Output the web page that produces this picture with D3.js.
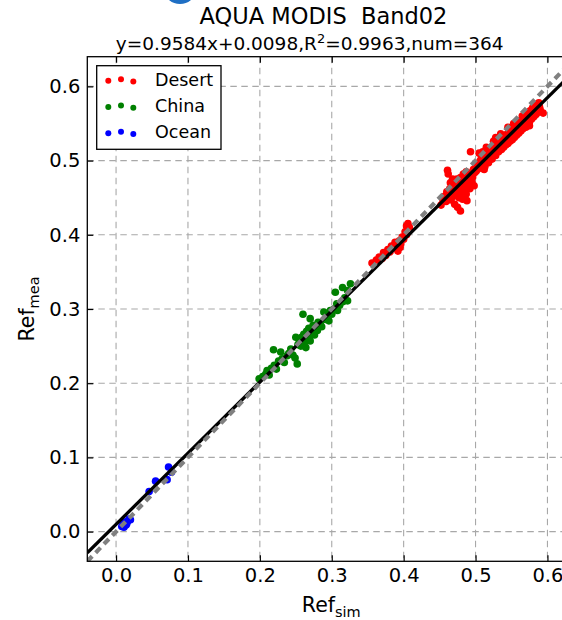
<!DOCTYPE html>
<html>
<head>
<meta charset="utf-8">
<script src="https://cdn.jsdelivr.net/npm/d3@7/dist/d3.min.js"></script>
<style>
  html, body { margin: 0; padding: 0; background: #ffffff; }
  svg { display: block; font-family: "DejaVu Sans", sans-serif; }
</style>
</head>
<body>
<svg id="chart" width="562" height="620"></svg>
<script>
// ---------------- data ----------------
const titleText = "AQUA MODIS  Band02";
const fitSlope = 0.9584;
const fitIntercept = 0.0098;
const r2Text = "0.9963";
const numText = "364";
const xLabel = "Ref", xLabelSub = "sim";
const yLabel = "Ref", yLabelSub = "mea";
const axisDomain = [-0.04, 0.64];
const tickValues = [0.0, 0.1, 0.2, 0.3, 0.4, 0.5, 0.6];
const tickLabels = ["0.0", "0.1", "0.2", "0.3", "0.4", "0.5", "0.6"];
const seriesNames = ["Desert", "China", "Ocean"];
const seriesColors = ["#ff0000", "#008000", "#0000ff"];

const desert = [
  [0.356,0.362],[0.362,0.366],[0.366,0.370],[0.370,0.368],[0.372,0.376],[0.375,0.372],[0.378,0.380],
  [0.381,0.377],[0.383,0.385],[0.386,0.382],[0.388,0.390],[0.390,0.386],[0.392,0.378],[0.394,0.392],
  [0.396,0.388],[0.398,0.397],[0.400,0.394],[0.402,0.404],[0.404,0.400],[0.406,0.415],[0.408,0.410],
  [0.404,0.412],[0.395,0.383],
  [0.452,0.440],[0.455,0.447],[0.457,0.452],[0.459,0.445],[0.460,0.458],[0.461,0.487],[0.462,0.482],
  [0.463,0.451],[0.464,0.462],[0.465,0.455],[0.466,0.447],[0.467,0.468],[0.468,0.460],[0.469,0.452],
  [0.470,0.472],[0.471,0.441],[0.472,0.463],[0.473,0.456],[0.474,0.475],[0.475,0.437],[0.476,0.468],
  [0.477,0.450],[0.478,0.461],[0.479,0.477],[0.480,0.457],[0.481,0.470],[0.482,0.448],[0.483,0.465],
  [0.484,0.478],[0.485,0.460],[0.486,0.472],[0.487,0.455],[0.488,0.446],[0.489,0.480],[0.490,0.468],
  [0.491,0.475],[0.492,0.462],[0.493,0.512],[0.494,0.483],[0.495,0.471],[0.496,0.478],[0.497,0.488],
  [0.498,0.466],[0.499,0.484],[0.500,0.492],[0.465,0.470],[0.470,0.462],[0.475,0.458],[0.480,0.466],
  [0.485,0.470],[0.490,0.483],[0.455,0.445],[0.460,0.450],[0.468,0.475],[0.478,0.472],[0.483,0.482],
  [0.487,0.485],[0.479,0.432],
  [0.501,0.486],[0.503,0.495],[0.504,0.489],[0.506,0.499],[0.507,0.492],[0.508,0.503],[0.510,0.495],
  [0.511,0.505],[0.512,0.498],[0.513,0.492],[0.514,0.507],[0.515,0.500],[0.516,0.510],[0.517,0.503],
  [0.518,0.497],[0.519,0.512],[0.520,0.506],[0.521,0.515],[0.522,0.509],[0.523,0.502],[0.524,0.517],
  [0.525,0.511],[0.526,0.520],[0.527,0.514],[0.528,0.507],[0.529,0.522],[0.530,0.516],[0.531,0.525],
  [0.532,0.512],[0.533,0.519],[0.534,0.528],[0.535,0.521],[0.536,0.515],[0.537,0.530],[0.538,0.524],
  [0.539,0.518],[0.540,0.533],[0.541,0.527],[0.542,0.521],[0.543,0.535],[0.544,0.529],[0.545,0.523],
  [0.546,0.538],[0.547,0.531],[0.548,0.526],[0.549,0.540],[0.550,0.534],[0.505,0.510],[0.515,0.518],
  [0.525,0.526],[0.535,0.536],[0.545,0.545],[0.512,0.488],[0.528,0.531],[0.510,0.512],
  [0.551,0.528],[0.552,0.543],[0.553,0.537],[0.554,0.531],[0.555,0.546],[0.556,0.540],[0.557,0.534],
  [0.558,0.549],[0.559,0.543],[0.560,0.537],[0.561,0.552],[0.562,0.546],[0.563,0.540],[0.564,0.555],
  [0.565,0.549],[0.566,0.543],[0.567,0.558],[0.568,0.552],[0.569,0.546],[0.570,0.561],[0.571,0.555],
  [0.572,0.549],[0.573,0.564],[0.574,0.558],[0.575,0.552],[0.576,0.567],[0.577,0.561],[0.578,0.556],
  [0.579,0.570],[0.580,0.564],[0.581,0.559],[0.582,0.573],[0.583,0.567],[0.584,0.562],[0.585,0.576],
  [0.586,0.570],[0.587,0.565],[0.588,0.578],[0.589,0.572],[0.590,0.568],[0.560,0.553],[0.570,0.545],
  [0.575,0.547],[0.580,0.572],[0.585,0.568],[0.553,0.550],[0.565,0.560],[0.594,0.564]
];

const china = [
  [0.199,0.206],[0.204,0.209],[0.208,0.212],[0.210,0.217],[0.213,0.211],[0.216,0.220],[0.219,0.245],
  [0.220,0.224],[0.223,0.219],[0.226,0.230],[0.229,0.242],[0.231,0.233],[0.234,0.228],[0.238,0.237],
  [0.240,0.240],[0.243,0.246],[0.246,0.238],[0.249,0.234],[0.250,0.262],[0.252,0.226],[0.253,0.252],
  [0.255,0.258],[0.257,0.250],[0.258,0.262],[0.260,0.293],[0.261,0.266],[0.262,0.255],[0.264,0.248],
  [0.265,0.270],[0.267,0.262],[0.268,0.274],[0.270,0.287],[0.270,0.257],[0.272,0.268],[0.274,0.278],
  [0.276,0.265],[0.278,0.272],[0.280,0.271],[0.281,0.282],[0.284,0.280],[0.286,0.276],[0.289,0.296],
  [0.291,0.286],[0.293,0.290],[0.296,0.284],[0.298,0.298],[0.300,0.293],[0.303,0.300],[0.305,0.3225],
  [0.307,0.307],[0.308,0.298],[0.311,0.305],[0.315,0.329],[0.316,0.310],[0.318,0.315],[0.322,0.311],
  [0.322,0.325],[0.326,0.334]
];

const ocean = [
  [0.008,0.007],[0.010,0.010],[0.012,0.013],[0.014,0.009],[0.016,0.014],[0.018,0.017],[0.020,0.016],
  [0.015,0.011],[0.011,0.006],[0.046,0.054],[0.055,0.068],[0.071,0.070],[0.073,0.087],[0.077,0.080]
];

const seriesData = [desert, china, ocean];

// ---------------- layout ----------------
const svg = d3.select("#chart");
const m = { left: 87.3, top: 56.7, w: 488.9, h: 504.6 };

const x = d3.scaleLinear().domain(axisDomain).range([m.left, m.left + m.w]);
const y = d3.scaleLinear().domain(axisDomain).range([m.top + m.h, m.top]);

svg.append("defs").append("clipPath").attr("id", "plotclip")
  .append("rect").attr("x", m.left).attr("y", m.top).attr("width", m.w).attr("height", m.h);

// decorative blue fragment at top
svg.append("ellipse").attr("cx", 180).attr("cy", -9).attr("rx", 15).attr("ry", 13)
  .attr("fill", "#1f6fc4");

// grid
const grid = svg.append("g").attr("clip-path", "url(#plotclip)");
grid.selectAll(".vg").data(tickValues).enter().append("line")
  .attr("x1", d => x(d)).attr("x2", d => x(d))
  .attr("y1", m.top).attr("y2", m.top + m.h)
  .attr("stroke", "#a8a8a8").attr("stroke-width", 1.1).attr("stroke-dasharray", "6.5,4.5");
grid.selectAll(".hg").data(tickValues).enter().append("line")
  .attr("y1", d => y(d)).attr("y2", d => y(d))
  .attr("x1", m.left).attr("x2", m.left + m.w)
  .attr("stroke", "#a8a8a8").attr("stroke-width", 1.1).attr("stroke-dasharray", "6.5,4.5");

// points
const plot = svg.append("g").attr("clip-path", "url(#plotclip)");
seriesData.forEach((arr, i) => {
  plot.append("g").selectAll("circle").data(arr).enter().append("circle")
    .attr("cx", d => x(d[0])).attr("cy", d => y(d[1])).attr("r", 3.8)
    .attr("fill", seriesColors[i]);
});

// fit line
plot.append("line")
  .attr("x1", x(axisDomain[0])).attr("y1", y(fitSlope * axisDomain[0] + fitIntercept))
  .attr("x2", x(axisDomain[1])).attr("y2", y(fitSlope * axisDomain[1] + fitIntercept))
  .attr("stroke", "#000").attr("stroke-width", 3.3);

// 1:1 line
plot.append("line")
  .attr("x1", x(axisDomain[0])).attr("y1", y(axisDomain[0]))
  .attr("x2", x(axisDomain[1])).attr("y2", y(axisDomain[1]))
  .attr("stroke", "#808080").attr("stroke-width", 4.2).attr("stroke-dasharray", "7,5");

// axes
const fmt = (d) => tickLabels[tickValues.indexOf(d)];
const xAxis = d3.axisBottom(x).tickValues(tickValues).tickFormat(fmt).tickSizeInner(-6).tickSizeOuter(0).tickPadding(7);
const yAxis = d3.axisLeft(y).tickValues(tickValues).tickFormat(fmt).tickSizeInner(-6).tickSizeOuter(0).tickPadding(7);
const xTop = d3.axisTop(x).tickValues(tickValues).tickFormat("").tickSizeInner(-6).tickSizeOuter(0);
const yRight = d3.axisRight(y).tickValues(tickValues).tickFormat("").tickSizeInner(-6).tickSizeOuter(0);

function styleAxis(g) {
  g.select(".domain").remove();
  g.selectAll(".tick line").attr("stroke", "#000").attr("stroke-width", 1.2);
  g.selectAll(".tick text").attr("fill", "#000").style("font-size", "19.5px")
    .style("font-family", "'DejaVu Sans', sans-serif");
}
svg.append("g").attr("transform", `translate(0,${m.top + m.h})`).call(xAxis).call(styleAxis);
svg.append("g").attr("transform", `translate(${m.left},0)`).call(yAxis).call(styleAxis);
svg.append("g").attr("transform", `translate(0,${m.top})`).call(xTop).call(styleAxis);
svg.append("g").attr("transform", `translate(${m.left + m.w},0)`).call(yRight).call(styleAxis);

// frame
svg.append("rect").attr("x", m.left).attr("y", m.top).attr("width", m.w).attr("height", m.h)
  .attr("fill", "none").attr("stroke", "#000").attr("stroke-width", 1.3);

// title
svg.append("text").attr("x", 323.5).attr("y", 24).attr("text-anchor", "middle")
  .style("font-size", "22.5px").style("white-space", "pre").attr("fill", "#000")
  .text(titleText);

const sub = svg.append("text").attr("x", 309.7).attr("y", 50).attr("text-anchor", "middle")
  .style("font-size", "18.5px").attr("fill", "#000");
sub.append("tspan").text(`y=${fitSlope}x+${fitIntercept},R`);
sub.append("tspan").attr("dy", -7).style("font-size", "13px").text("2");
sub.append("tspan").attr("dy", 7).text(`=${r2Text},num=${numText}`);

// x label
const xl = svg.append("text").attr("x", m.left + m.w / 2 - 0.5).attr("y", 612).attr("text-anchor", "middle")
  .style("font-size", "20.5px").attr("fill", "#000");
xl.append("tspan").text(xLabel);
xl.append("tspan").attr("dy", 5).style("font-size", "14.5px").text(xLabelSub);

// y label
const yl = svg.append("text").attr("transform", `translate(34,${m.top + m.h / 2}) rotate(-90)`)
  .attr("text-anchor", "middle").style("font-size", "20.5px").attr("fill", "#000");
yl.append("tspan").text(yLabel);
yl.append("tspan").attr("dy", 5).style("font-size", "14.5px").text(yLabelSub);

// legend
const lg = svg.append("g");
lg.append("rect").attr("x", 96.7).attr("y", 65.7).attr("width", 124.3).attr("height", 83.6)
  .attr("fill", "#fff").attr("stroke", "#000").attr("stroke-width", 1.3);
const legendDotX = [108.3, 121, 133.3];
const legendDotDy = [1.5, 0, 2.3];
seriesNames.forEach((name, i) => {
  const cy = 79.2 + i * 26.3;
  legendDotX.forEach((dx, j) => {
    lg.append("circle").attr("cx", dx).attr("cy", cy + legendDotDy[j]).attr("r", 3)
      .attr("fill", seriesColors[i]);
  });
  lg.append("text").attr("x", 155).attr("y", cy + 6.3).style("font-size", "17.5px")
    .attr("fill", "#000").text(name);
});
</script>
</body>
</html>
